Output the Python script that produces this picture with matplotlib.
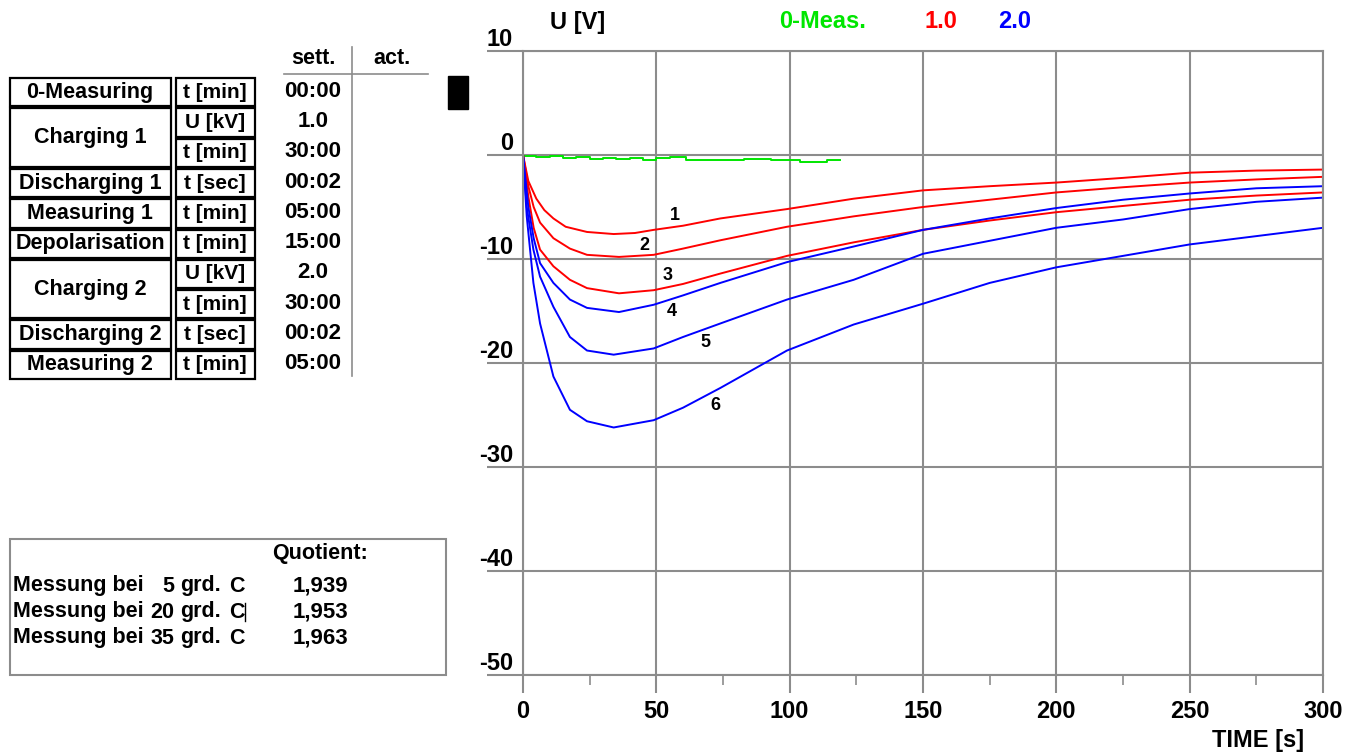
import matplotlib
matplotlib.use('Agg')
import matplotlib.pyplot as plt
from matplotlib import font_manager
from matplotlib.patches import Rectangle
from matplotlib.lines import Line2D
from matplotlib.transforms import ScaledTranslation

# ---------------- data ----------------
x_ticks = [0, 50, 100, 150, 200, 250, 300]
x_minor = [25, 75, 125, 175, 225, 275]
y_ticks = [10, 0, -10, -20, -30, -40, -50]

t1 = [0, 2, 5, 8, 11.4, 16, 24, 34, 42, 49, 60, 74, 99, 124, 150, 175, 200, 225, 250, 275, 300]
v1 = [0, -2.5, -4.2, -5.3, -6.1, -6.9, -7.4, -7.6, -7.5, -7.2, -6.8, -6.1, -5.2, -4.2, -3.4, -3.0, -2.65, -2.2, -1.7, -1.5, -1.4]

t2 = [0, 2, 4, 6.4, 11.4, 17.6, 24, 36, 49, 60, 74, 99, 124, 150, 175, 200, 225, 250, 275, 300]
v2 = [0, -3.0, -5.0, -6.5, -8.0, -9.0, -9.6, -9.8, -9.6, -9.0, -8.2, -6.9, -5.9, -5.0, -4.3, -3.6, -3.1, -2.65, -2.35, -2.1]

t3 = [0, 2, 4, 6.4, 11.4, 17.6, 24, 36, 49, 60, 74, 99, 124, 150, 175, 200, 225, 250, 275, 300]
v3 = [0, -4.0, -7.0, -9.1, -10.7, -12.0, -12.8, -13.3, -13.0, -12.4, -11.4, -9.7, -8.4, -7.2, -6.3, -5.5, -4.9, -4.3, -3.9, -3.6]

t4 = [0, 2, 4, 6.4, 11.4, 17.6, 24, 36, 49, 60, 74, 99, 124, 150, 175, 200, 225, 250, 275, 300]
v4 = [0, -5.0, -8.0, -10.4, -12.3, -13.9, -14.7, -15.1, -14.4, -13.5, -12.3, -10.3, -8.8, -7.2, -6.1, -5.1, -4.3, -3.7, -3.2, -3.0]

t5 = [0, 1.4, 3.9, 6.4, 11.4, 17.6, 24, 34, 49, 60, 74, 99, 124, 150, 175, 200, 225, 250, 275, 300]
v5 = [0, -5.0, -9.1, -11.7, -14.6, -17.5, -18.8, -19.2, -18.6, -17.5, -16.2, -13.9, -12.0, -9.5, -8.25, -7.0, -6.2, -5.2, -4.5, -4.1]

t6 = [0, 1.4, 3.9, 6.4, 11.4, 17.6, 24, 34, 49, 60, 74, 99, 124, 150, 175, 200, 225, 250, 275, 300]
v6 = [0, -5.9, -12.3, -16.2, -21.3, -24.5, -25.6, -26.2, -25.5, -24.3, -22.4, -18.8, -16.3, -14.3, -12.3, -10.8, -9.7, -8.6, -7.8, -7.0]

green_t = [0, 5, 10, 15, 20, 25, 30, 35, 40, 45, 50, 55, 61, 83, 93, 104, 114, 119]
green_v = [-0.1, -0.2, -0.1, -0.3, -0.2, -0.35, -0.25, -0.4, -0.3, -0.5, -0.25, -0.2, -0.45, -0.35, -0.45, -0.65, -0.45, -0.45]

curve_labels = ["1", "2", "3", "4", "5", "6"]
label_t = [57, 45.7, 54.4, 55.9, 68.6, 72]
label_v = [-5.8, -8.7, -11.6, -15.0, -18.0, -24.1]

steps = ["0-Measuring", "Charging 1", "Discharging 1", "Measuring 1",
         "Depolarisation", "Charging 2", "Discharging 2", "Measuring 2"]
units = [["t [min]"], ["U [kV]", "t [min]"], ["t [sec]"], ["t [min]"],
         ["t [min]"], ["U [kV]", "t [min]"], ["t [sec]"], ["t [min]"]]
settings = ["00:00", "1.0", "30:00", "00:02", "05:00", "15:00", "2.0", "30:00", "00:02", "05:00"]

quot_temps = ["5", "20", "35"]
quot_values = ["1,939", "1,953", "1,963"]

legend_texts = ["0-Meas.", "1.0", "2.0"]

# ---------------- style ----------------
names = {f.name for f in font_manager.fontManager.ttflist}
NARROW = 'Liberation Sans Narrow' if 'Liberation Sans Narrow' in names else 'Liberation Sans'
SANS = 'Liberation Sans'
GRID = '#8c8c8c'
RED = '#ff0000'
BLUE = '#0000ff'
GREEN = '#00e600'
TFS = 15.5

W, H = 1347, 753
fig = plt.figure(figsize=(W / 100, H / 100), dpi=100)
fig.patch.set_facecolor('white')


def fx(x):
    return x / W


def fy(y):
    return 1 - y / H


# ---------------- chart ----------------
ax = fig.add_axes([523 / W, 1 - 675 / H, 800 / W, 624 / H])
ax.set_xlim(0, 300)
ax.set_ylim(-50, 10)
ax.set_axisbelow(True)

ax.plot(green_t, green_v, color=GREEN, lw=1.4, drawstyle='steps-post')
for t, v, c in [(t1, v1, RED), (t2, v2, RED), (t3, v3, RED),
                (t4, v4, BLUE), (t5, v5, BLUE), (t6, v6, BLUE)]:
    ax.plot(t, v, color=c, lw=1.4)

for lab, lt, lv in zip(curve_labels, label_t, label_v):
    ax.text(lt, lv, lab, ha='center', va='center', fontsize=13,
            fontweight='bold', family=SANS, color='black')

ax.set_xticks(x_ticks)
ax.set_xticklabels([str(v) for v in x_ticks])
ax.set_xticks(x_minor, minor=True)
ax.set_yticks(y_ticks)
ax.set_yticklabels([str(v) for v in y_ticks])
ax.grid(True, which='major', color=GRID, lw=1.5)
ax.tick_params(axis='x', which='major', direction='out', length=13, width=1.5,
               color=GRID, pad=5)
ax.tick_params(axis='x', which='minor', direction='out', length=7, width=1.2,
               color=GRID)
ax.tick_params(axis='y', which='major', direction='out', length=26, width=1.5,
               color=GRID, pad=0)
for lab in ax.get_xticklabels():
    lab.set_fontsize(17)
    lab.set_fontweight('bold')
    lab.set_family(NARROW)
for lab in ax.get_yticklabels():
    lab.set_fontsize(17)
    lab.set_fontweight('bold')
    lab.set_family(NARROW)
    lab.set_transform(lab.get_transform() + ScaledTranslation(0.26, 0.14, fig.dpi_scale_trans))
for sp in ax.spines.values():
    sp.set_color(GRID)
    sp.set_linewidth(1.5)

fig.text(fx(578), fy(22), "U [V]", ha='center', va='center', fontsize=17,
         fontweight='bold', family=NARROW)
fig.text(fx(1258), fy(740), "TIME [s]", ha='center', va='center', fontsize=17,
         fontweight='bold', family=NARROW)
for txt, xc, c in zip(legend_texts, [823, 941, 1015], [GREEN, RED, BLUE]):
    fig.text(fx(xc), fy(21), txt, ha='center', va='center', fontsize=17,
             fontweight='bold', family=NARROW, color=c)

# ---------------- settings table ----------------
row_h = 30.3
y0 = 77
sub = 0
for name, ulist in zip(steps, units):
    n = len(ulist)
    top = y0 + sub * row_h
    fig.add_artist(Rectangle((fx(10), fy(top + n * row_h - 1)), (171 - 10) / W,
                             (n * row_h - 2) / H, transform=fig.transFigure,
                             fill=False, edgecolor='black', lw=1.6))
    fig.text(fx(90), fy(top + n * row_h / 2), name, ha='center', va='center',
             fontsize=TFS, fontweight='bold', family=SANS)
    for k, u in enumerate(ulist):
        st = top + k * row_h
        fig.add_artist(Rectangle((fx(176), fy(st + row_h - 1)), (255 - 176) / W,
                                 (row_h - 2) / H, transform=fig.transFigure,
                                 fill=False, edgecolor='black', lw=1.6))
        fig.text(fx(215), fy(st + row_h / 2), u, ha='center', va='center',
                 fontsize=TFS - 0.5, fontweight='bold', family=SANS)
    sub += n

for i, s in enumerate(settings):
    fig.text(fx(313), fy(y0 + i * row_h + row_h / 2 - 1), s, ha='center', va='center',
             fontsize=16, fontweight='bold', family=SANS)

fig.text(fx(313), fy(58), "sett.", ha='center', va='center', fontsize=TFS,
         fontweight='bold', family=SANS)
fig.text(fx(392), fy(58), "act.", ha='center', va='center', fontsize=TFS,
         fontweight='bold', family=SANS)
fig.add_artist(Line2D([fx(352), fx(352)], [fy(47), fy(376)], color=GRID, lw=1.2,
                      transform=fig.transFigure))
fig.add_artist(Line2D([fx(284), fx(428)], [fy(74), fy(74)], color=GRID, lw=1.2,
                      transform=fig.transFigure))
fig.add_artist(Rectangle((fx(448), fy(109)), 20 / W, 33 / H, transform=fig.transFigure,
                         facecolor='black', edgecolor='black'))

# ---------------- quotient box ----------------
fig.add_artist(Rectangle((fx(10), fy(675)), (446 - 10) / W, (675 - 539) / H,
                         transform=fig.transFigure, fill=False, edgecolor=GRID, lw=1.5))
fig.text(fx(320), fy(553), "Quotient:", ha='center', va='center', fontsize=TFS,
         fontweight='bold', family=SANS)
for i, (tmp, q) in enumerate(zip(quot_temps, quot_values)):
    yy = fy(586 + i * 26)
    fig.text(fx(13), yy, "Messung bei", ha='left', va='center', fontsize=TFS,
             fontweight='bold', family=SANS)
    fig.text(fx(174), yy, tmp, ha='right', va='center', fontsize=TFS,
             fontweight='bold', family=SANS)
    fig.text(fx(180), yy, "grd.", ha='left', va='center', fontsize=TFS,
             fontweight='bold', family=SANS)
    fig.text(fx(229), yy, "C", ha='left', va='center', fontsize=TFS,
             fontweight='bold', family=SANS)
    fig.text(fx(320), yy, q, ha='center', va='center', fontsize=16,
             fontweight='bold', family=SANS)
fig.add_artist(Line2D([fx(245), fx(245)], [fy(603), fy(621)], color='black', lw=1.0,
                      transform=fig.transFigure))

fig.savefig('out.png', dpi=100, facecolor='white')
